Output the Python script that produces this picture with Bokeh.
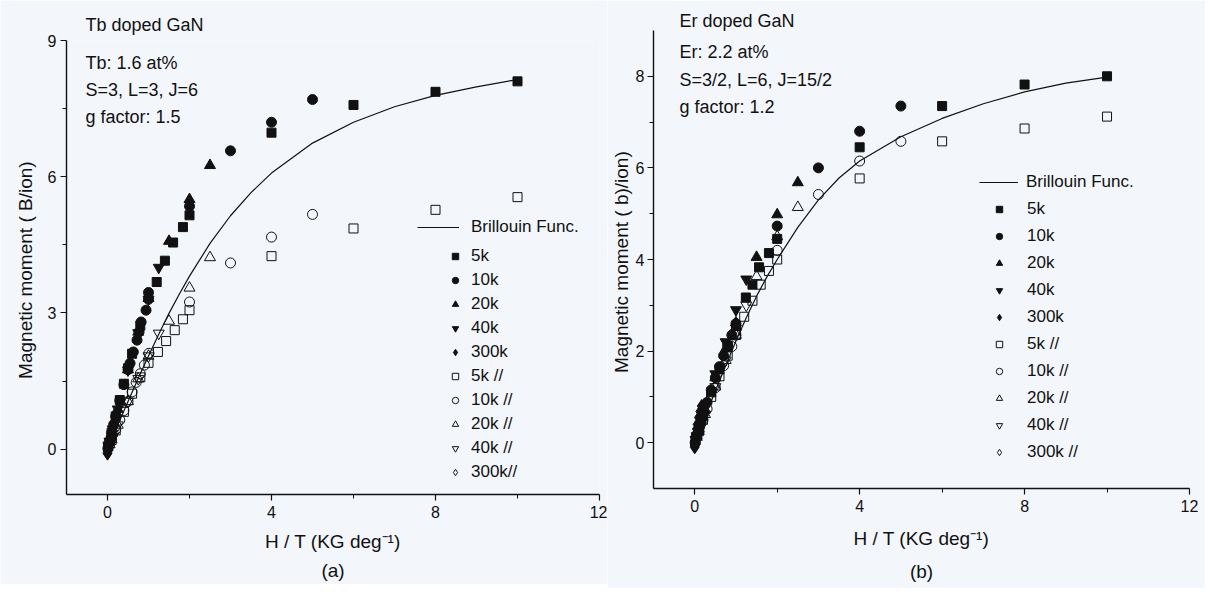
from bokeh.plotting import figure
from bokeh.models import FixedTicker, Legend, LegendItem, Label, Title, Range1d
from bokeh.layouts import row, column
from bokeh.embed import file_html
from bokeh.resources import INLINE

# ---------------- Panel (a): Tb doped GaN ----------------
tb_fit_x = [0, 0.25, 0.5, 0.75, 1.0, 1.25, 1.5, 1.75, 2.0, 2.5, 3.0, 3.5, 4.0, 5.0, 6.0, 7.0, 8.0, 9.0, 10.0]
tb_fit_y = [0, 0.53, 1.05, 1.56, 2.05, 2.53, 2.99, 3.41, 3.81, 4.53, 5.14, 5.65, 6.08, 6.74, 7.2, 7.54, 7.79, 7.98, 8.14]

tb_5k_x = [0.02, 0.1, 0.2, 0.3, 0.4, 0.5, 0.6, 0.8, 1.2, 1.4, 1.6, 1.84, 2.0, 4.0, 6.0, 8.0, 10.0]
tb_5k_y = [0.06, 0.36, 0.72, 1.08, 1.44, 1.78, 2.1, 2.72, 3.68, 4.15, 4.55, 4.89, 5.15, 6.97, 7.58, 7.87, 8.1]
tb_10k_x = [0.01, 0.05, 0.1, 0.15, 0.2, 0.3, 0.4, 0.5, 0.55, 0.63, 0.72, 0.77, 0.82, 0.94, 1.0, 1.0, 2.0, 3.0, 4.0, 5.0]
tb_10k_y = [0.02, 0.18, 0.36, 0.54, 0.72, 1.07, 1.42, 1.75, 1.89, 2.14, 2.4, 2.58, 2.8, 3.06, 3.3, 3.45, 5.35, 6.57, 7.2, 7.7]
tb_20k_x = [0.05, 0.1, 0.25, 0.5, 0.75, 1.0, 1.5, 2.0, 2.5]
tb_20k_y = [0.17, 0.35, 0.88, 1.75, 2.58, 3.32, 4.58, 5.5, 6.25]
tb_40k_x = [0.025, 0.05, 0.125, 0.25, 0.5, 0.75, 1.0, 1.25]
tb_40k_y = [0.08, 0.17, 0.44, 0.88, 1.74, 2.56, 3.3, 4.0]
tb_300k_x = [0.0, 0.003, 0.01, 0.02, 0.033, 0.05, 0.067, 0.1, 0.133, 0.167]
tb_300k_y = [-0.1, -0.04, 0.02, 0.07, 0.12, 0.18, 0.24, 0.35, 0.47, 0.58]

tb_5kp_x = [0.1, 0.2, 0.4, 0.6, 0.8, 1.0, 1.23, 1.43, 1.64, 1.84, 2.0, 4.0, 6.0, 8.0, 10.0]
tb_5kp_y = [0.2, 0.41, 0.82, 1.22, 1.58, 1.9, 2.14, 2.38, 2.62, 2.86, 3.06, 4.25, 4.86, 5.27, 5.55]
tb_10kp_x = [0.05, 0.1, 0.2, 0.3, 0.4, 0.5, 0.6, 0.7, 0.8, 0.9, 1.01, 2.0, 3.0, 4.0, 5.0]
tb_10kp_y = [0.1, 0.22, 0.43, 0.64, 0.85, 1.05, 1.26, 1.47, 1.66, 1.85, 2.11, 3.24, 4.1, 4.67, 5.17]
tb_20kp_x = [0.05, 0.1, 0.25, 0.5, 0.75, 1.0, 1.5, 2.0, 2.5]
tb_20kp_y = [0.1, 0.21, 0.53, 1.05, 1.55, 2.05, 2.82, 3.55, 4.22]
tb_40kp_x = [0.025, 0.05, 0.125, 0.25, 0.5, 0.75, 1.0, 1.25]
tb_40kp_y = [0.05, 0.1, 0.27, 0.53, 1.05, 1.55, 2.05, 2.55]
tb_300kp_x = [0.0, 0.003, 0.01, 0.02, 0.033, 0.05, 0.067, 0.1, 0.133, 0.167]
tb_300kp_y = [-0.08, -0.03, 0.02, 0.05, 0.08, 0.11, 0.14, 0.21, 0.28, 0.35]

tb_title = "Tb doped GaN"
tb_texts = ["Tb: 1.6 at%", "S=3, L=3, J=6", "g factor: 1.5"]
tb_labels = ["5k", "10k", "20k", "40k", "300k", "5k //", "10k //", "20k //", "40k //", "300k//"]
tb_yticks = [0, 3, 6, 9]
tb_yminor = [1.5, 4.5, 7.5]

# ---------------- Panel (b): Er doped GaN ----------------
er_fit_x = [0, 0.25, 0.5, 0.75, 1.0, 1.25, 1.5, 1.75, 2.0, 2.5, 3.0, 3.5, 4.0, 5.0, 6.0, 7.0, 8.0, 9.0, 10.0]
er_fit_y = [0, 0.57, 1.13, 1.68, 2.22, 2.73, 3.2, 3.62, 4.0, 4.7, 5.3, 5.78, 6.15, 6.68, 7.08, 7.4, 7.66, 7.85, 7.98]

er_5k_x = [0.02, 0.1, 0.2, 0.4, 0.6, 0.8, 1.0, 1.24, 1.4, 1.56, 1.8, 2.0, 4.0, 6.0, 8.0, 10.0]
er_5k_y = [0.05, 0.3, 0.58, 1.1, 1.6, 2.1, 2.55, 3.17, 3.45, 3.83, 4.14, 4.45, 6.45, 7.35, 7.82, 8.0]
er_10k_x = [0.01, 0.05, 0.1, 0.15, 0.2, 0.3, 0.4, 0.5, 0.6, 0.7, 0.8, 0.9, 1.0, 2.0, 3.0, 4.0, 5.0]
er_10k_y = [0.0, 0.15, 0.3, 0.45, 0.6, 0.88, 1.15, 1.42, 1.66, 1.9, 2.13, 2.35, 2.6, 4.73, 6.0, 6.8, 7.35]
er_20k_x = [0.05, 0.1, 0.25, 0.5, 0.75, 1.0, 1.5, 2.0, 2.5]
er_20k_y = [0.15, 0.3, 0.72, 1.42, 2.05, 2.62, 4.05, 4.98, 5.68]
er_40k_x = [0.025, 0.05, 0.125, 0.25, 0.5, 0.75, 1.0, 1.25]
er_40k_y = [0.07, 0.15, 0.38, 0.76, 1.5, 2.2, 2.9, 3.57]
er_300k_x = [0.0, 0.003, 0.007, 0.01, 0.017, 0.033, 0.05, 0.067, 0.1, 0.133, 0.167]
er_300k_y = [-0.1, -0.05, 0.0, 0.05, 0.1, 0.2, 0.3, 0.4, 0.55, 0.68, 0.8]

er_5kp_x = [0.1, 0.2, 0.4, 0.6, 0.8, 1.0, 1.2, 1.4, 1.6, 1.8, 2.0, 4.0, 6.0, 8.0, 10.0]
er_5kp_y = [0.25, 0.5, 1.0, 1.45, 1.9, 2.35, 2.75, 3.1, 3.45, 3.75, 4.0, 5.77, 6.58, 6.86, 7.12]
er_10kp_x = [0.05, 0.1, 0.2, 0.3, 0.5, 0.7, 0.9, 1.0, 2.0, 3.0, 4.0, 5.0]
er_10kp_y = [0.12, 0.25, 0.5, 0.74, 1.2, 1.68, 2.1, 2.35, 4.2, 5.42, 6.15, 6.58]
er_20kp_x = [0.05, 0.1, 0.25, 0.5, 0.75, 1.0, 1.5, 2.0, 2.5]
er_20kp_y = [0.12, 0.25, 0.62, 1.22, 1.8, 2.35, 3.63, 4.5, 5.14]
er_40kp_x = [0.025, 0.05, 0.125, 0.25, 0.5, 0.75, 1.0, 1.25]
er_40kp_y = [0.06, 0.12, 0.31, 0.62, 1.22, 1.8, 2.4, 3.0]
er_300kp_x = [0.0, 0.003, 0.01, 0.02, 0.033, 0.05, 0.067, 0.1, 0.133, 0.167]
er_300kp_y = [-0.08, -0.03, 0.02, 0.05, 0.08, 0.12, 0.16, 0.24, 0.32, 0.4]

er_title = "Er doped GaN"
er_texts = ["Er: 2.2 at%", "S=3/2, L=6, J=15/2", "g factor: 1.2"]
er_labels = ["5k", "10k", "20k", "40k", "300k", "5k //", "10k //", "20k //", "40k //", "300k //"]
er_yticks = [0, 2, 4, 6, 8]
er_yminor = [1, 3, 5, 7]

x_ticks = [0, 4, 8, 12]
x_minor = [2, 6, 10]
x_label = "H / T (KG deg\u207b\u00b9)"

BG = "#f3f7fb"
FONT = "Liberation Sans"
INK = "#111111"

MARKERS = [("square", True, 9), ("circle", True, 10), ("triangle", True, 11),
           ("inverted_triangle", True, 11), ("diamond", True, 13),
           ("square", False, 9), ("circle", False, 10), ("triangle", False, 11),
           ("inverted_triangle", False, 11), ("diamond", False, 13)]


def build(series, fit_x, fit_y, yticks, yminor, ylabel, title, texts, labels, tag, geom):
    p = figure(frame_width=geom["fw"], frame_height=geom["fh"],
               x_range=Range1d(-1, 12), y_range=Range1d(-1, 9),
               output_backend="svg", toolbar_location=None,
               min_border_left=geom["bl"], min_border_right=geom["br"],
               min_border_top=geom["bt"], min_border_bottom=geom["bb"],
               background_fill_color=BG, border_fill_color=BG)
    p.outline_line_color = None
    p.grid.visible = False
    p.title.text = title
    p.title.align = "left"
    p.title.offset = geom["text_x"]
    p.title.standoff = geom["title_so"]
    p.title.text_font = FONT
    p.title.text_font_size = "18px"
    p.title.text_font_style = "normal"
    p.title.text_color = INK

    p.xaxis.ticker = FixedTicker(ticks=x_ticks, minor_ticks=x_minor)
    p.yaxis.ticker = FixedTicker(ticks=yticks, minor_ticks=yminor)
    p.xaxis.axis_label = x_label
    p.yaxis.axis_label = ylabel
    for ax in (p.xaxis[0], p.yaxis[0]):
        ax.axis_line_color = INK
        ax.axis_line_width = 1.4
        ax.major_tick_line_color = INK
        ax.major_tick_line_width = 1.2
        ax.major_tick_out = 6
        ax.major_tick_in = 0
        ax.minor_tick_line_color = INK
        ax.minor_tick_out = 4
        ax.minor_tick_in = 0
        ax.major_label_text_font = FONT
        ax.major_label_text_font_size = "16px"
        ax.major_label_text_color = INK
        ax.axis_label_text_font = FONT
        ax.axis_label_text_font_style = "normal"
        ax.axis_label_text_color = INK
    p.xaxis.major_label_standoff = 5
    p.xaxis.axis_label_text_font_size = "19px"
    p.xaxis.axis_label_standoff = geom["xlab_so"]
    p.yaxis.axis_label_text_font_size = "19px"
    p.yaxis.axis_label_standoff = geom["ylab_so"]
    p.yaxis.major_label_standoff = geom["ytick_so"]

    line_r = p.line(fit_x, fit_y, line_color=INK, line_width=1.2)
    renders = []
    for (mk, filled, sz), (xs, ys) in zip(MARKERS, series):
        r = p.scatter(xs, ys, marker=mk, size=sz,
                      fill_color=INK if filled else None,
                      line_color=INK, line_width=1.0)
        renders.append(r)

    common = dict(padding=0, margin=0, border_line_color=None, background_fill_alpha=0,
                  label_text_font=FONT, label_text_font_size="17px",
                  label_text_color=INK, glyph_height=20, label_height=20)
    legA = Legend(items=[LegendItem(label="Brillouin Func.", renderers=[line_r])],
                  location=geom["legA"], glyph_width=geom["gwA"],
                  label_standoff=geom["lsA"], spacing=0, **common)
    legB = Legend(items=[LegendItem(label=l, renderers=[r]) for l, r in zip(labels, renders)],
                  location=geom["legB"], glyph_width=16,
                  label_standoff=geom["lsB"], spacing=geom["spB"], **common)
    p.add_layout(legA)
    p.add_layout(legB)

    for t, yy in zip(texts, geom["text_y"]):
        p.add_layout(Label(x=geom["text_x"], y=yy, x_units="screen", y_units="screen",
                           text=t, text_baseline="middle", text_font=FONT,
                           text_font_size="18px", text_color=INK))

    p.add_layout(Title(text=tag, align="center", text_font=FONT, text_font_size="19px",
                       text_font_style="normal", text_color=INK,
                       standoff=geom["tag_so"]), "below")
    return p


tb_series = [(tb_5k_x, tb_5k_y), (tb_10k_x, tb_10k_y), (tb_20k_x, tb_20k_y),
             (tb_40k_x, tb_40k_y), (tb_300k_x, tb_300k_y),
             (tb_5kp_x, tb_5kp_y), (tb_10kp_x, tb_10kp_y), (tb_20kp_x, tb_20kp_y),
             (tb_40kp_x, tb_40kp_y), (tb_300kp_x, tb_300kp_y)]
er_series = [(er_5k_x, er_5k_y), (er_10k_x, er_10k_y), (er_20k_x, er_20k_y),
             (er_40k_x, er_40k_y), (er_300k_x, er_300k_y),
             (er_5kp_x, er_5kp_y), (er_10kp_x, er_10kp_y), (er_20kp_x, er_20kp_y),
             (er_40kp_x, er_40kp_y), (er_300kp_x, er_300kp_y)]

geom_a = dict(fw=533, fh=454, bl=66, br=8, bt=40, bb=90, ylab_so=9, ytick_so=4, xlab_so=10,
              legA=(351, 257), gwA=42, lsA=12, legB=(381, 12), lsB=8, spB=4,
              text_x=19, title_so=11, text_y=[432, 405, 378], tag_so=6)
geom_b = dict(fw=536, fh=458, bl=44, br=16, bt=30, bb=96, ylab_so=1, ytick_so=3, xlab_so=13,
              legA=(326, 296), gwA=39, lsA=8, legB=(338, 26), lsB=20, spB=7,
              text_x=26, title_so=0, text_y=[437, 409, 382], tag_so=14)

pa = build(tb_series, tb_fit_x, tb_fit_y, tb_yticks, tb_yminor,
           "Magnetic moment (  B/ion)", tb_title, tb_texts, tb_labels, "(a)", geom_a)
pb = build(er_series, er_fit_x, er_fit_y, er_yticks, er_yminor,
           "Magnetic moment (  b)/ion)", er_title, er_texts, er_labels, "(b)", geom_b)

layout = row(column(pa), column(pb))
open("out.html", "w").write(file_html(layout, INLINE))
